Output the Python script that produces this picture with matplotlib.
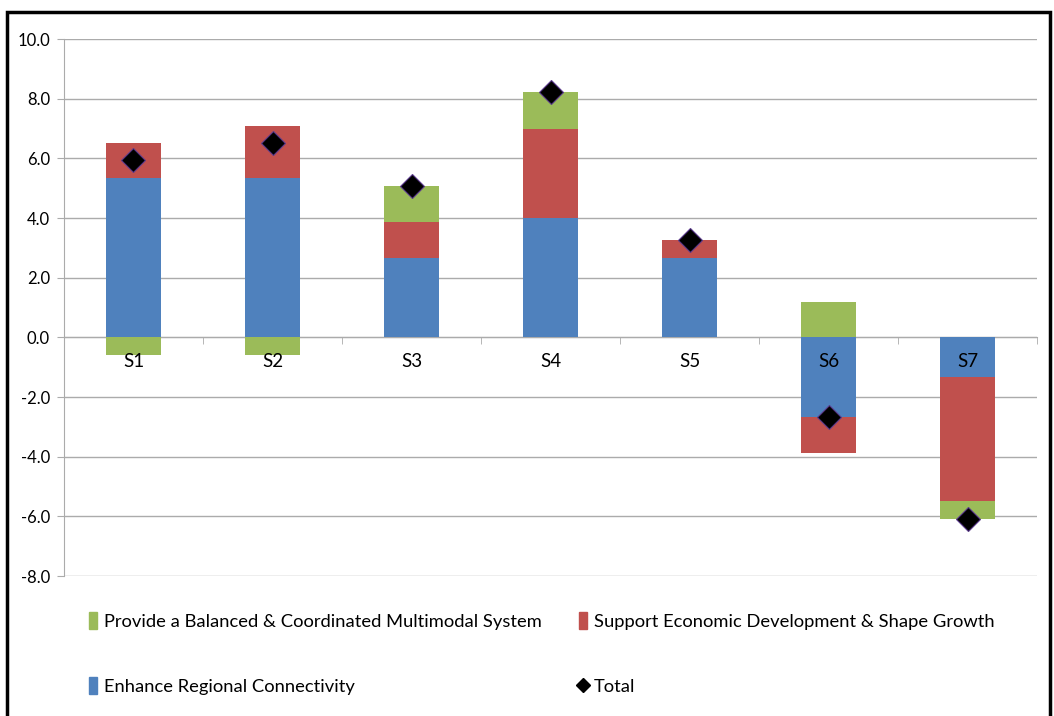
import numpy as np
import matplotlib
matplotlib.use('Agg')
import matplotlib.pyplot as plt
from matplotlib.patches import Rectangle, Patch
from matplotlib.lines import Line2D

plt.rcParams['font.family'] = ['Lato', 'DejaVu Sans']

# values
scenarios = ['S1', 'S2', 'S3', 'S4', 'S5', 'S6', 'S7']
connectivity = [5.33, 5.33, 2.67, 4.0, 2.67, -2.67, -1.33]
economic = [1.2, 1.77, 1.2, 3.0, 0.6, -1.2, -4.17]
multimodal = [-0.6, -0.6, 1.2, 1.23, 0.0, 1.2, -0.6]
totals = [5.93, 6.5, 5.07, 8.23, 3.27, -2.67, -6.1]

names = ['Enhance Regional Connectivity',
         'Support Economic Development & Shape Growth',
         'Provide a Balanced & Coordinated Multimodal System']
colors = ['#4F81BD', '#C0504D', '#9BBB59']

fig = plt.figure(figsize=(10.54, 7.16), dpi=100)
ax = fig.add_axes([0.0607, 0.1955, 0.9233, 0.75])

x = np.arange(len(scenarios))
pos_base = np.zeros(len(x))
neg_base = np.zeros(len(x))
for vals, c in zip([connectivity, economic, multimodal], colors):
    vals = np.array(vals)
    bottom = np.where(vals >= 0, pos_base, neg_base)
    ax.bar(x, vals, 0.4, bottom=bottom, color=c, zorder=2)
    pos_base += np.where(vals > 0, vals, 0)
    neg_base += np.where(vals < 0, vals, 0)

ax.plot(x, totals, 'D', color='black', markersize=12,
        markeredgecolor='#5B3A8C', markeredgewidth=0.8, zorder=4, ls='none')

ax.set_ylim(-8, 10)
ax.set_xlim(-0.5, len(x) - 0.5)
yt = np.arange(-8, 10.1, 2)
ax.set_yticks(yt)
ax.set_yticklabels(['%.1f' % v for v in yt])
ax.yaxis.grid(True, color='#ABABAB', lw=1)
ax.set_axisbelow(True)

ax.set_xticks(x)
ax.set_xticklabels(scenarios)
ax.set_xticks(np.arange(-0.5, len(x)), minor=True)
ax.tick_params(axis='x', which='major', length=0, pad=11, labelsize=13.5)
ax.tick_params(axis='x', which='minor', length=5, color='#ABABAB', direction='out')
ax.tick_params(axis='y', length=5, color='#ABABAB', pad=5, labelsize=12)
ax.xaxis.set_zorder(3)

for s in ['top', 'right']:
    ax.spines[s].set_visible(False)
ax.spines['bottom'].set_position(('data', 0))
ax.spines['bottom'].set_color('#ABABAB')
ax.spines['bottom'].set_zorder(0.5)
ax.spines['left'].set_color('#ABABAB')

col1 = [Patch(color=colors[2], label=names[2]),
        Patch(color=colors[0], label=names[0])]
col2 = [Patch(color=colors[1], label=names[1]),
        Line2D([], [], marker='D', color='black', ls='none', markersize=7, label='Total')]
leg_kw = dict(loc='upper left', frameon=False, fontsize=13.2, handlelength=0.45,
              handleheight=1.0, handletextpad=0.4, labelspacing=2.6,
              borderaxespad=0, borderpad=0)
fig.legend(handles=col1, bbox_to_anchor=(0.084, 0.145), **leg_kw)
fig.legend(handles=col2, bbox_to_anchor=(0.549, 0.145), **leg_kw)

fig.patches.append(Rectangle((0.007, -0.01), 0.989, 0.993, transform=fig.transFigure,
                             fill=False, edgecolor='black', lw=2.5))

fig.savefig('out.png', dpi=100)
